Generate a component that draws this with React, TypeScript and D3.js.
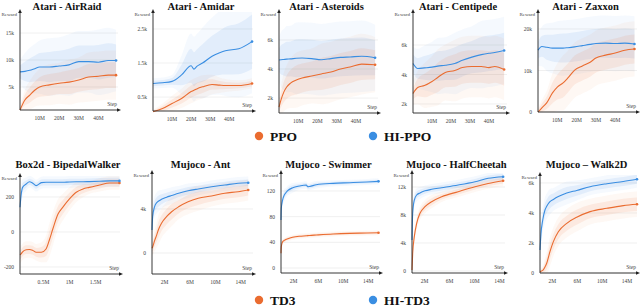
import React, { useEffect, useRef } from "react";
import * as d3 from "d3";

// ---------- data (steps in M, rewards in k unless noted) ----------
const airRaidSteps = [0, 2.5, 5, 7.5, 10, 15, 20, 25, 30, 35, 40, 45, 49];
const airRaidPPO = [0.74, 2.6, 3.5, 4.4, 5.0, 5.4, 5.7, 5.9, 6.3, 6.85, 7.0, 7.2, 7.2];
const airRaidHI = [7.8, 7.9, 8.1, 8.4, 8.7, 8.7, 8.9, 9.1, 9.7, 9.7, 9.6, 9.9, 9.9];
const airRaidPPOBand = [0.3, 1.0, 1.4, 1.6, 1.8, 2.0, 2.0, 2.2, 2.2, 2.4, 2.4, 2.4, 2.4];
const airRaidHIBand = [1.2, 1.8, 2.2, 2.4, 2.6, 2.8, 2.8, 3.0, 3.0, 3.0, 3.2, 3.2, 3.0];

const amidarSteps = [0, 5, 10, 15, 20, 21.5, 23, 26, 31, 35, 38, 45, 52];
const amidarPPO = [0.07, 0.16, 0.31, 0.46, 0.66, 0.7, 0.74, 0.8, 0.87, 0.85, 0.84, 0.84, 0.9];
const amidarHI = [0.9, 0.92, 0.96, 1.15, 1.42, 1.32, 1.4, 1.5, 1.7, 1.8, 1.86, 1.92, 2.13];
const amidarPPOBand = [0.03, 0.08, 0.12, 0.15, 0.18, 0.18, 0.18, 0.18, 0.15, 0.12, 0.1, 0.08, 0.08];
const amidarHIBand = [0.08, 0.08, 0.1, 0.3, 0.5, 0.5, 0.5, 0.55, 0.6, 0.65, 0.7, 0.75, 0.8];

const asteroidsSteps = [0, 1, 2.5, 4, 6, 9, 12, 17, 22, 27, 32, 37, 43, 50];
const asteroidsPPO = [1.38, 1.86, 2.41, 2.76, 3.03, 3.24, 3.38, 3.52, 3.66, 3.79, 4.0, 4.14, 4.34, 4.3];
const asteroidsHI = [4.62, 4.64, 4.66, 4.68, 4.7, 4.74, 4.76, 4.72, 4.64, 4.72, 4.8, 4.83, 4.88, 4.78];
const asteroidsPPOBand = [0.3, 0.5, 0.7, 0.8, 0.9, 1.0, 1.0, 1.0, 1.1, 1.1, 1.1, 1.1, 1.1, 1.0];
const asteroidsHIBand = [0.8, 1.0, 1.1, 1.2, 1.2, 1.3, 1.3, 1.3, 1.3, 1.3, 1.3, 1.3, 1.3, 1.2];

const centipedeSteps = [0, 2.5, 6, 10, 13, 17, 22, 26, 31, 36, 40, 43, 48];
const centipedePPO = [2.71, 3.12, 3.25, 3.53, 3.8, 4.14, 4.27, 4.47, 4.54, 4.54, 4.47, 4.54, 4.34];
const centipedeHI = [4.75, 4.41, 4.45, 4.5, 4.57, 4.63, 4.75, 4.97, 5.18, 5.35, 5.44, 5.49, 5.63];
const centipedePPOBand = [0.4, 0.6, 0.8, 0.9, 1.0, 1.0, 1.1, 1.1, 1.1, 1.1, 1.1, 1.1, 1.1];
const centipedeHIBand = [0.6, 0.7, 0.8, 0.9, 1.0, 1.0, 1.1, 1.1, 1.1, 1.2, 1.2, 1.2, 1.2];

const zaxxonSteps = [0, 2, 4.5, 7.5, 10, 13, 15.5, 19, 23, 27, 30, 35, 40, 45, 50];
const zaxxonPPO = [0, 1.0, 2.2, 4.6, 6.0, 7.0, 8.2, 10.1, 11.1, 12.0, 13.0, 13.7, 14.2, 14.9, 15.2];
const zaxxonHI = [14.9, 15.8, 15.6, 15.4, 15.4, 15.4, 15.5, 15.7, 16.0, 16.3, 16.5, 16.6, 16.5, 16.6, 16.4];
const zaxxonPPOBand = [0.5, 1.0, 1.5, 2.5, 3.0, 3.5, 3.5, 3.5, 3.5, 3.5, 3.5, 3.5, 3.5, 3.5, 3.5];
const zaxxonHIBand = [2.0, 2.5, 3.0, 3.2, 3.4, 3.5, 3.5, 3.5, 3.5, 3.5, 3.5, 3.5, 3.5, 3.5, 3.5];

// reward in raw units
const bipedalSteps = [0.05, 0.07, 0.1, 0.17, 0.23, 0.29, 0.36, 0.46, 0.55, 0.62, 0.68, 0.78, 0.87, 1.0, 1.13, 1.26, 1.38, 1.58, 1.77, 1.96];
const bipedalTD3 = [-131, -125, -113, -101, -100, -104, -116, -116, -97, -40, 17, 103, 141, 189, 227, 246, 255, 269, 280, 280];
const bipedalHI = [141, 207, 255, 274, 287, 280, 265, 282, 284, 284, 284, 284, 284, 286, 287, 287, 288, 290, 292, 292];
const bipedalTD3Band = [25, 25, 25, 25, 25, 25, 25, 30, 40, 50, 50, 45, 40, 35, 30, 25, 20, 20, 20, 20];
const bipedalHIBand = [30, 30, 25, 20, 18, 18, 18, 18, 18, 18, 18, 18, 18, 18, 18, 18, 18, 18, 18, 18];

const antSteps = [0, 0.1, 0.4, 0.75, 1.0, 1.5, 2.3, 3.1, 4.2, 5.7, 7.3, 9.4, 11.5, 13.6, 15.2];
const antTD3 = [0.43, 0.55, 1.1, 1.65, 2.09, 2.7, 3.3, 3.75, 4.2, 4.66, 4.97, 5.18, 5.43, 5.57, 5.73];
const antHI = [2.09, 3.3, 4.2, 4.57, 4.7, 4.88, 5.07, 5.22, 5.43, 5.65, 5.82, 6.02, 6.18, 6.34, 6.39];
const antTD3Band = [0.3, 0.4, 0.5, 0.6, 0.7, 0.7, 0.7, 0.7, 0.6, 0.6, 0.6, 0.5, 0.5, 0.5, 0.5];
const antHIBand = [0.5, 0.5, 0.5, 0.5, 0.5, 0.45, 0.4, 0.4, 0.35, 0.35, 0.3, 0.3, 0.3, 0.3, 0.3];

// reward in raw units
const swimmerSteps = [0, 0.05, 0.26, 0.53, 0.85, 1.07, 1.88, 2.97, 4.05, 4.3, 4.6, 5.67, 8.36, 11.07, 13.8, 15.66];
const swimmerTD3 = [22.9, 33.2, 41, 43, 44.8, 45.5, 47.8, 49.4, 50.2, 50.4, 50.7, 51.4, 53, 54, 54.5, 55];
const swimmerHI = [74.8, 93, 106, 113.7, 118, 120.4, 125, 127.7, 129.3, 126.6, 127, 129.7, 131.9, 132.9, 134, 135];
const swimmerTD3Band = [2, 2, 2, 2, 2, 2, 2, 2, 2, 2, 2, 2, 2, 2, 2, 2];
const swimmerHIBand = [6, 6, 5, 5, 4, 4, 4, 3, 3, 3, 3, 3, 2.5, 2.5, 2.5, 2.5];

const cheetahSteps = [0, 0.11, 0.37, 0.75, 1.28, 2.08, 3.15, 4.75, 7.4, 10.1, 12.2, 14.6];
const cheetahTD3 = [0.14, 2.53, 4.9, 6.81, 8.24, 9.19, 9.9, 10.6, 11.33, 12.04, 12.5, 12.9];
const cheetahHI = [4.43, 8.24, 10.14, 10.86, 11.15, 11.45, 11.67, 11.9, 12.29, 12.76, 13.24, 13.47];
const cheetahTD3Band = [0.2, 0.4, 0.5, 0.5, 0.5, 0.5, 0.5, 0.4, 0.4, 0.4, 0.4, 0.4];
const cheetahHIBand = [0.6, 0.6, 0.5, 0.5, 0.45, 0.4, 0.4, 0.4, 0.4, 0.4, 0.4, 0.4];

const walkerSteps = [0, 0.16, 0.44, 0.8, 1.08, 1.6, 2.15, 2.95, 4.3, 5.9, 8.06, 10.76, 13.4, 15.6];
const walkerTD3 = [0.09, 0.12, 0.17, 0.4, 0.65, 1.42, 2.09, 2.75, 3.31, 3.71, 4.09, 4.31, 4.49, 4.58];
const walkerHI = [1.53, 2.64, 3.53, 4.2, 4.45, 4.75, 4.9, 5.09, 5.33, 5.5, 5.75, 5.95, 6.1, 6.25];
const walkerTD3Band = [0.05, 0.1, 0.15, 0.3, 0.4, 0.5, 0.5, 0.5, 0.5, 0.5, 0.45, 0.45, 0.45, 0.45];
const walkerHIBand = [0.4, 0.45, 0.45, 0.45, 0.45, 0.45, 0.4, 0.4, 0.4, 0.35, 0.3, 0.3, 0.3, 0.3];

// ticks
const atariXTicks = [10, 20, 30, 40];
const atariXLabels = ["10M", "20M", "30M", "40M"];
const bipedalXTicks = [0.5, 1, 1.5];
const bipedalXLabels = ["0.5M", "1M", "1.5M"];
const mujocoXTicks = [2, 6, 10, 14];
const mujocoXLabels = ["2M", "6M", "10M", "14M"];

const titles = [
  "Atari - AirRaid", "Atari - Amidar", "Atari - Asteroids", "Atari - Centipede", "Atari - Zaxxon",
  "Box2d - BipedalWalker", "Mujoco - Ant", "Mujoco - Swimmer", "Mujoco - HalfCheetah", "Mujoco \u2013 Walk2D",
];
const yTicks = [
  [5, 10, 15], [0.5, 1.5, 2.5], [2, 4, 6], [2, 4, 6], [0, 10, 20],
  [-200, 0, 200], [0, 4], [0, 40, 80, 120], [0, 4, 8, 12], [0, 2, 4, 6],
];
const yLabels = [
  ["5k", "10k", "15k"], ["0.5k", "1.5k", "2.5k"], ["2k", "4k", "6k"], ["2k", "4k", "6k"], ["0", "10k", "20k"],
  ["-200", "0", "200"], ["0", "4k"], ["0", "40", "80", "120"], ["0", "4k", "8k", "12k"], ["0", "2k", "4k", "6k"],
];
const yDomains = [
  [0.74, 18.9], [0.09, 3.0], [0.97, 7.93], [1.39, 8.24], [0, 24.1],
  [-240, 320], [-1.91, 7.27], [-7.8, 148], [-0.29, 14], [0, 6.53],
];
const xDomains = [
  [0, 50], [0, 52.5], [0, 51.5], [0, 49.5], [0, 51.3],
  [0.05, 1.97], [0, 15.95], [0, 15.9], [0, 14.9], [0, 15.6],
];

const legendTop = ["PPO", "HI-PPO"];
const legendBottom = ["TD3", "HI-TD3"];

// ---------- layout ----------
const layout = [
  { left: 20, right: 118, top: 12, bottom: 110 },
  { left: 153, right: 253, top: 12, bottom: 111 },
  { left: 279, right: 378, top: 12, bottom: 113 },
  { left: 413, right: 507, top: 12, bottom: 113 },
  { left: 538, right: 637, top: 12, bottom: 112 },
  { left: 20, right: 120, top: 176, bottom: 274 },
  { left: 152, right: 253, top: 173, bottom: 274 },
  { left: 281, right: 380, top: 173, bottom: 273 },
  { left: 412, right: 505, top: 173, bottom: 273 },
  { left: 540, right: 637, top: 175, bottom: 273 },
];

const baseColor = "#ea6c30";
const hiColor = "#3a8ee2";
const serif = "Liberation Serif, Times New Roman, Times, DejaVu Serif, serif";

const series = [
  [airRaidSteps, airRaidPPO, airRaidPPOBand, airRaidHI, airRaidHIBand],
  [amidarSteps, amidarPPO, amidarPPOBand, amidarHI, amidarHIBand],
  [asteroidsSteps, asteroidsPPO, asteroidsPPOBand, asteroidsHI, asteroidsHIBand],
  [centipedeSteps, centipedePPO, centipedePPOBand, centipedeHI, centipedeHIBand],
  [zaxxonSteps, zaxxonPPO, zaxxonPPOBand, zaxxonHI, zaxxonHIBand],
  [bipedalSteps, bipedalTD3, bipedalTD3Band, bipedalHI, bipedalHIBand],
  [antSteps, antTD3, antTD3Band, antHI, antHIBand],
  [swimmerSteps, swimmerTD3, swimmerTD3Band, swimmerHI, swimmerHIBand],
  [cheetahSteps, cheetahTD3, cheetahTD3Band, cheetahHI, cheetahHIBand],
  [walkerSteps, walkerTD3, walkerTD3Band, walkerHI, walkerHIBand],
];

const App = () => {
  const ref = useRef<SVGSVGElement>(null);

  useEffect(() => {
    document.body.style.margin = "0";
    const svg = d3.select(ref.current);
    svg.selectAll("*").remove();

    series.forEach(([steps, base, baseBand, hi, hiBand], i) => {
      const L = layout[i];
      const x = d3.scaleLinear().domain(xDomains[i]).range([L.left, L.right]);
      const y = d3.scaleLinear().domain(yDomains[i]).range([L.bottom, L.top]);
      const g = svg.append("g");

      svg
        .append("clipPath")
        .attr("id", "clip" + i)
        .append("rect")
        .attr("x", L.left)
        .attr("y", L.top)
        .attr("width", L.right - L.left)
        .attr("height", L.bottom - L.top);

      // grid
      g.selectAll("line.grid")
        .data(yTicks[i])
        .join("line")
        .attr("x1", L.left)
        .attr("x2", L.right)
        .attr("y1", (d) => y(d))
        .attr("y2", (d) => y(d))
        .attr("stroke", "#e6e6e6")
        .attr("stroke-width", 0.6);

      const isTop = i < 5;
      const xt = isTop ? atariXTicks : i === 5 ? bipedalXTicks : mujocoXTicks;
      const xl = isTop ? atariXLabels : i === 5 ? bipedalXLabels : mujocoXLabels;

      const plot = g.append("g").attr("clip-path", `url(#clip${i})`);

      const sets = [
        { vals: hi, band: hiBand, color: hiColor },
        { vals: base, band: baseBand, color: baseColor },
      ];

      sets.forEach((s) => {
        const pts = steps.map((st, j) => [st, s.vals[j], s.band[j]]);
        [
          [1.9, 0.05],
          [1.0, 0.1],
        ].forEach(([k, op]) => {
          const area = d3
            .area<number[]>()
            .x((d) => x(d[0]))
            .y0((d) => y(d[1] - d[2] * k))
            .y1((d) => y(d[1] + d[2] * k))
            .curve(d3.curveMonotoneX);
          plot.append("path").attr("d", area(pts)).attr("fill", s.color).attr("opacity", op);
        });
      });

      [sets[1], sets[0]].forEach((s) => {
        const pts = steps.map((st, j) => [st, s.vals[j]]);
        const line = d3
          .line<number[]>()
          .x((d) => x(d[0]))
          .y((d) => y(d[1]))
          .curve(d3.curveMonotoneX);
        g.append("path")
          .attr("d", line(pts))
          .attr("fill", "none")
          .attr("stroke", s.color)
          .attr("stroke-width", 1.1);
        const last = pts[pts.length - 1];
        g.append("circle").attr("cx", x(last[0])).attr("cy", y(last[1])).attr("r", 1.3).attr("fill", s.color);
      });

      // axes
      g.append("line")
        .attr("x1", L.left)
        .attr("x2", L.left)
        .attr("y1", L.bottom)
        .attr("y2", L.top - 1)
        .attr("stroke", "#222")
        .attr("stroke-width", 0.9);
      g.append("path")
        .attr("d", `M${L.left - 1.8},${L.top + 1}L${L.left + 1.8},${L.top + 1}L${L.left},${L.top - 3}Z`)
        .attr("fill", "#222");
      g.append("line")
        .attr("x1", L.left)
        .attr("x2", L.right + 1)
        .attr("y1", L.bottom)
        .attr("y2", L.bottom)
        .attr("stroke", "#222")
        .attr("stroke-width", 0.9);
      g.append("path")
        .attr("d", `M${L.right - 1},${L.bottom - 1.8}L${L.right - 1},${L.bottom + 1.8}L${L.right + 3},${L.bottom}Z`)
        .attr("fill", "#222");

      // tick labels
      g.selectAll("text.yt")
        .data(yTicks[i])
        .join("text")
        .attr("x", L.left - 6)
        .attr("y", (d) => y(d) + 2)
        .attr("text-anchor", "end")
        .attr("font-family", serif)
        .attr("font-size", 5.5)
        .attr("fill", "#444")
        .text((d, j) => yLabels[i][j]);

      g.selectAll("text.xt")
        .data(xt)
        .join("text")
        .attr("x", (d) => x(d))
        .attr("y", L.bottom + 10)
        .attr("text-anchor", "middle")
        .attr("font-family", serif)
        .attr("font-size", 5.5)
        .attr("fill", "#444")
        .text((d, j) => xl[j]);

      g.append("text")
        .attr("x", L.left - 3)
        .attr("y", L.top + 4)
        .attr("text-anchor", "end")
        .attr("font-family", serif)
        .attr("font-size", 5)
        .attr("fill", "#444")
        .text("Reward");
      g.append("text")
        .attr("x", L.right - 1)
        .attr("y", L.bottom - 4)
        .attr("text-anchor", "end")
        .attr("font-family", serif)
        .attr("font-size", 5.5)
        .attr("fill", "#444")
        .text("Step");

      // title
      g.append("text")
        .attr("x", (L.left + L.right) / 2 - 2)
        .attr("y", isTop ? 9.5 : 168)
        .attr("text-anchor", "middle")
        .attr("font-family", serif)
        .attr("font-weight", "bold")
        .attr("font-size", 10.5)
        .attr("fill", "#111")
        .text(titles[i]);
    });

    // legends
    [
      { labels: legendTop, cy: 136 },
      { labels: legendBottom, cy: 300 },
    ].forEach((lg) => {
      [baseColor, hiColor].forEach((c, j) => {
        const cx = j === 0 ? 259 : 373;
        svg.append("circle").attr("cx", cx).attr("cy", lg.cy).attr("r", 4.2).attr("fill", c);
        svg
          .append("text")
          .attr("x", cx + 11)
          .attr("y", lg.cy + 4.5)
          .attr("font-family", serif)
          .attr("font-weight", "bold")
          .attr("font-size", 13.5)
          .attr("fill", "#111")
          .text(lg.labels[j]);
      });
    });
  });

  return (
    <svg
      ref={ref}
      width={640}
      height={307}
      style={{ position: "absolute", left: 0, top: 0, background: "#fff" }}
    />
  );
};

export default App;
